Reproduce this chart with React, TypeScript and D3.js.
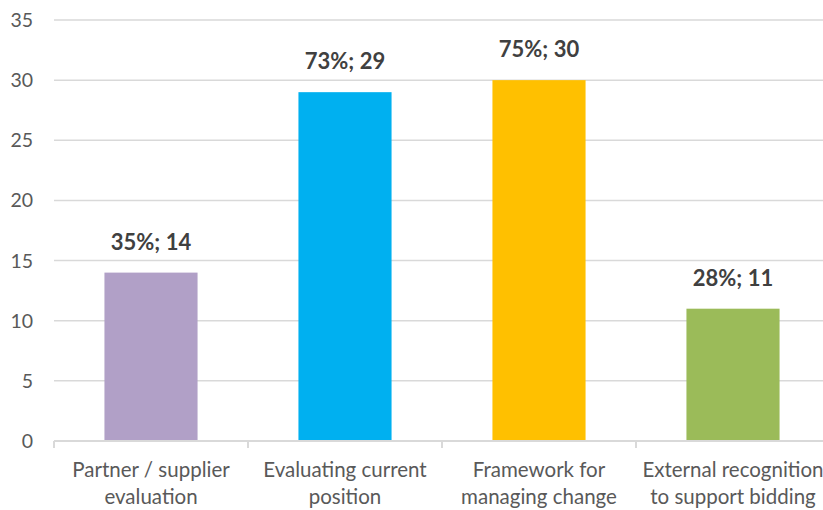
import React from "react";
import * as d3 from "d3";

const categories: string[][] = [
  ["Partner / supplier", "evaluation"],
  ["Evaluating current", "position"],
  ["Framework for", "managing change"],
  ["External recognition", "to support bidding"],
];
const values: number[] = [14, 29, 30, 11];
const labels: string[] = ["35%; 14", "73%; 29", "75%; 30", "28%; 11"];
const colors: string[] = ["#B1A0C7", "#00B0F0", "#FFC000", "#9BBB59"];
const yTicks: number[] = [0, 5, 10, 15, 20, 25, 30, 35];

const W = 823;
const H = 510;
const left = 54;
const right = 830;
const top = 20;
const bottom = 441;
const font = "Lato, 'Open Sans', sans-serif";

export default function App() {
  const x = d3
    .scaleBand<number>()
    .domain(values.map((_, i) => i))
    .range([left, right])
    .paddingInner(0.52)
    .paddingOuter(0.26);
  const step = (right - left) / values.length;
  const y = d3.scaleLinear().domain([0, 35]).range([bottom, top]);

  return (
    <div style={{ position: "absolute", left: 0, top: 0 }}>
      <svg width={W} height={H} style={{ display: "block", background: "#fff" }}>
        {yTicks.map((t) => (
          <g key={t}>
            {t > 0 && (
              <line x1={left} x2={right} y1={y(t)} y2={y(t)} stroke="#D9D9D9" strokeWidth={1.5} />
            )}
            <text
              x={33}
              y={y(t)}
              dy="0.36em"
              textAnchor="end"
              fontFamily={font}
              fontSize={19.5}
              fill="#595959"
            >
              {t}
            </text>
          </g>
        ))}
        {values.map((v, i) => (
          <rect
            key={i}
            x={x(i)}
            y={y(v)}
            width={x.bandwidth()}
            height={y(0) - y(v)}
            fill={colors[i]}
          />
        ))}
        <line x1={left} x2={right} y1={bottom} y2={bottom} stroke="#D9D9D9" strokeWidth={2} />
        {d3.range(values.length + 1).map((i) => (
          <line
            key={i}
            x1={left + i * step}
            x2={left + i * step}
            y1={bottom}
            y2={bottom + 7}
            stroke="#D9D9D9"
            strokeWidth={2}
          />
        ))}
        {values.map((v, i) => (
          <text
            key={i}
            x={(x(i) as number) + x.bandwidth() / 2}
            y={y(v) - 23}
            textAnchor="middle"
            fontFamily={font}
            fontSize={22}
            fontWeight="bold"
            fill="#404040"
          >
            {labels[i]}
          </text>
        ))}
        {categories.map((lines, i) => (
          <text
            key={i}
            x={(x(i) as number) + x.bandwidth() / 2}
            textAnchor="middle"
            fontFamily={font}
            fontSize={20.5}
            fill="#595959"
          >
            {lines.map((l, j) => (
              <tspan key={j} x={(x(i) as number) + x.bandwidth() / 2} y={477 + j * 27}>
                {l}
              </tspan>
            ))}
          </text>
        ))}
      </svg>
    </div>
  );
}
